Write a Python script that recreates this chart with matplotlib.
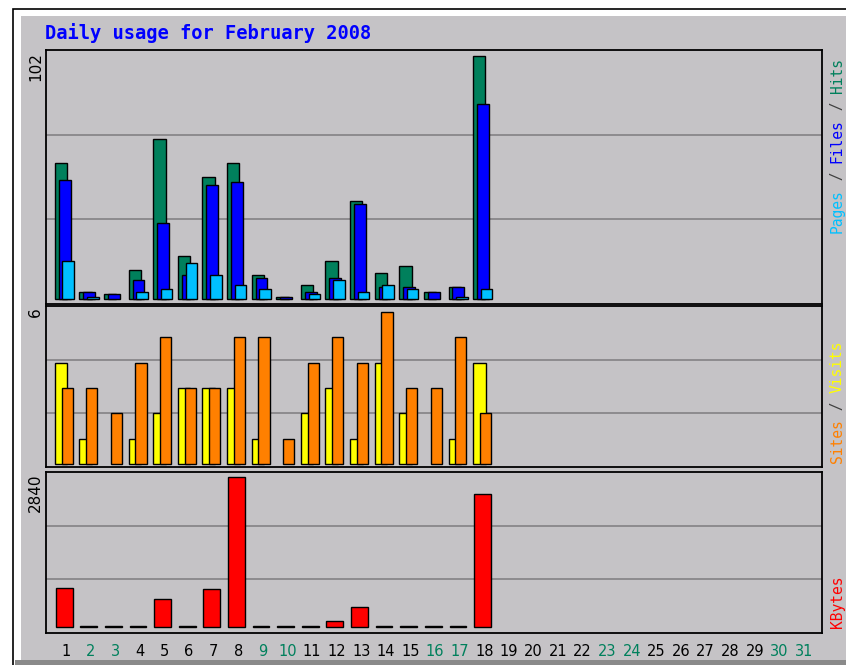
import matplotlib.pyplot as plt
from matplotlib.patches import Rectangle
from matplotlib import transforms

# dados (dias 1..31, fev/2008)
dias = list(range(1, 32))
hits = [57, 3, 2, 12, 67, 18, 51, 57, 10, 1, 6, 16, 41, 11, 14, 3, 5, 102] + [0] * 13
files = [50, 3, 2, 8, 32, 10, 48, 49, 9, 1, 3, 9, 40, 5, 5, 3, 5, 82] + [0] * 13
pages = [16, 1, 0, 3, 4, 15, 10, 6, 4, 0, 2, 8, 3, 6, 4, 0, 1, 4] + [0] * 13
visits = [4, 1, 0, 1, 2, 3, 3, 3, 1, 0, 2, 3, 1, 4, 2, 0, 1, 4] + [0] * 13
sites = [3, 3, 2, 4, 5, 3, 3, 5, 5, 1, 4, 5, 4, 6, 3, 3, 5, 2] + [0] * 13
kbytes = [744, 12, 12, 12, 524, 12, 714, 2840, 12, 12, 12, 120, 373, 12, 12, 12, 12, 2525] + [0] * 13
fim_de_semana = [2, 3, 9, 10, 16, 17, 23, 24, 30, 31]

W, H = 846, 665
cinza = "#c5c3c6"
verde = "#00805c"

fig = plt.figure(figsize=(W / 100, H / 100), dpi=100)
fig.patch.set_facecolor("white")

# moldura externa
fig.patches.append(Rectangle((13 / W, -0.1), 1.2, 1 - 9 / H + 0.1, transform=fig.transFigure,
                             facecolor="white", edgecolor="black", linewidth=1.2, zorder=-10))
fig.patches.append(Rectangle((21 / W, 0), 1.0, 1 - 16 / H, transform=fig.transFigure,
                             facecolor=cinza, edgecolor="none", zorder=-9))
fig.patches.append(Rectangle((15 / W, 0), 1.0, 5 / H, transform=fig.transFigure,
                             facecolor="#8a8a8a", edgecolor="none", zorder=-8))


def painel(top, bottom):
    ax = fig.add_axes([46 / W, 1 - bottom / H, 776 / W, (bottom - top) / H])
    ax.set_facecolor(cinza)
    for s in ax.spines.values():
        s.set_color("black")
        s.set_linewidth(1.3)
    ax.set_xlim(0.19, 31.73)
    ax.set_xticks([])
    ax.set_yticks([])
    return ax


def grade(ax, lo, hi):
    ax.set_ylim(lo, hi)
    for k in (1, 2):
        ax.axhline(lo + (hi - lo) * k / 3, color="#848284", linewidth=1.2, zorder=1)


def barras(ax, valores, desloc, largura, cor):
    xs = [d + desloc for d, v in zip(dias, valores) if v > 0]
    vs = [v for v in valores if v > 0]
    ax.bar(xs, vs, width=largura, align="edge", color=cor, edgecolor="black",
           linewidth=1.0, zorder=2)


def max_label(ax, texto):
    ax.text(-0.004, 0.99, texto, transform=ax.transAxes, rotation=90,
            ha="right", va="top", fontsize=11, color="black")


def rotulo_lateral(partes, y_px, fs=10.5):
    avanco = 0.602 * fs
    pos = 0
    for texto, cor in partes:
        tr = transforms.offset_copy(fig.transFigure, fig=fig, x=0, y=pos * avanco, units="points")
        if texto.strip():
            fig.text(837 / W, 1 - y_px / H, texto, transform=tr, rotation=90,
                     rotation_mode="anchor", ha="left", va="center", fontsize=fs,
                     family="DejaVu Sans Mono", color=cor)
        pos += len(texto)


# painel 1: hits / files / pages
ax1 = painel(50, 304)
grade(ax1, -2.1, 104.5)
barras(ax1, hits, -0.45, 0.5, verde)
barras(ax1, files, -0.29, 0.48, "#0000ff")
barras(ax1, pages, -0.14, 0.47, "#00c0ff")
max_label(ax1, "102")

# painel 2: visits / sites
ax2 = painel(306, 467)
grade(ax2, -0.12, 6.24)
barras(ax2, visits, -0.45, 0.51, "#ffff00")
barras(ax2, sites, -0.175, 0.45, "#ff8000")
max_label(ax2, "6")

# painel 3: kbytes
ax3 = painel(472, 633)
grade(ax3, -114, 2935)
barras(ax3, kbytes, -0.41, 0.68, "#ff0000")
max_label(ax3, "2840")

ax3.set_xticks(dias)
ax3.set_xticklabels([str(d) for d in dias], fontsize=10.5)
ax3.tick_params(axis="x", length=0, pad=8)
for d, lbl in zip(dias, ax3.get_xticklabels()):
    lbl.set_color(verde if d in fim_de_semana else "black")

fig.text(45 / W, 1 - 33 / H, "Daily usage for February 2008", ha="left", va="center",
         fontsize=13.5, family="DejaVu Sans Mono", weight="bold", color="#0000ff")

rotulo_lateral([("Pages", "#00c0ff"), (" / ", "#404040"), ("Files", "#0000ff"),
                (" / ", "#404040"), ("Hits", verde)], 233)
rotulo_lateral([("Sites", "#ff8000"), (" / ", "#404040"), ("Visits", "#ffff00")], 463)
rotulo_lateral([("KBytes", "#ff0000")], 628)

fig.savefig("out.png", dpi=100, facecolor=fig.get_facecolor())
